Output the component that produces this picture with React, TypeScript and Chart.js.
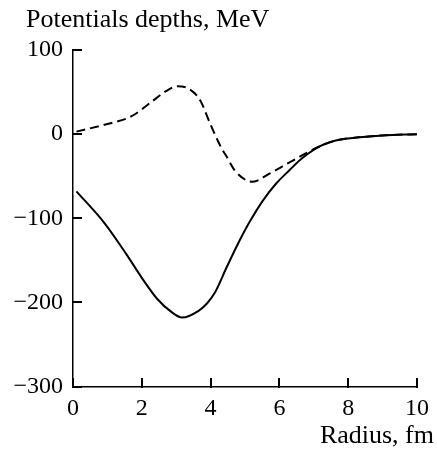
import React, { useEffect, useRef } from "react";
import { Chart, registerables } from "chart.js";

Chart.register(...registerables);

const solidX = [0.1, 0.92, 1.54, 2.02, 2.45, 2.85, 3.17, 3.65, 3.9, 4.13, 4.47, 4.8, 5.14, 5.52, 5.9, 6.29, 6.65, 7.2, 7.7, 8.25, 9.0, 10];
const solidY = [-68, -106, -142, -172, -196, -211, -218, -210, -201, -188, -158, -130, -104, -79, -59, -43, -29, -14, -7, -4, -1.5, 0];

const dashedX = [0.1, 1.0, 1.69, 2.27, 2.7, 3.03, 3.36, 3.7, 3.98, 4.32, 4.47, 4.7, 5.04, 5.23, 5.71, 6.19, 6.67, 7.2, 7.7, 8.25, 9.0, 10];
const dashedY = [3, 12, 21, 38, 51, 57, 54, 40, 13, -17, -27, -43, -55, -56.5, -47, -36, -25, -14, -7, -4, -1.5, 0];

const xTicks = [0, 2, 4, 6, 8, 10];
const yTicks = [-300, -200, -100, 0, 100];

const yTitle = "Potentials depths, MeV";
const xTitle = "Radius, fm";

const FONT = "'Liberation Serif', 'Times New Roman', serif";

const fmt = (v: number) => (v < 0 ? "\u2212" + Math.abs(v) : String(v));

const decorPlugin = {
  id: "decor",
  afterDraw(chart: any) {
    const ctx = chart.ctx;
    const xs = chart.scales.x;
    const ys = chart.scales.y;
    ctx.save();
    ctx.setLineDash([]);
    ctx.globalAlpha = 1;
    ctx.fillStyle = "#000000";
    const left = Math.round(ys.right);
    const bottom = Math.round(xs.top);
    for (const t of yTicks) {
      const py = Math.round(ys.getPixelForValue(t));
      ctx.fillRect(left - 1, py - 1, 10, 2);
    }
    for (const t of xTicks) {
      const px = Math.round(xs.getPixelForValue(t));
      ctx.fillRect(px - 1, bottom - 9, 2, 10);
    }
    ctx.font = `26px ${FONT}`;
    ctx.textBaseline = "alphabetic";
    ctx.textAlign = "left";
    ctx.fillText(yTitle, 26, 27);
    ctx.textAlign = "right";
    ctx.fillText(xTitle, 434, 443);
    ctx.restore();
  },
};

export default function App() {
  const ref = useRef<HTMLCanvasElement | null>(null);
  useEffect(() => {
    if (!ref.current) return;
    const chart = new Chart(ref.current, {
      type: "line",
      data: {
        datasets: [
          {
            data: solidX.map((x, i) => ({ x, y: solidY[i] })),
            borderColor: "#000",
            borderWidth: 2,
            pointRadius: 0,
            cubicInterpolationMode: "monotone",
            fill: false,
          },
          {
            data: dashedX.map((x, i) => ({ x, y: dashedY[i] })),
            borderColor: "#000",
            borderWidth: 2,
            borderDash: [9, 5],
            pointRadius: 0,
            cubicInterpolationMode: "monotone",
            fill: false,
          },
        ],
      },
      options: {
        responsive: false,
        animation: false,
        layout: { padding: { top: 50, right: 16, left: 0, bottom: 0 } },
        plugins: { legend: { display: false }, tooltip: { enabled: false } },
        scales: {
          x: {
            type: "linear",
            min: 0,
            max: 10,
            afterBuildTicks: (s: any) => {
              s.ticks = xTicks.map((v) => ({ value: v }));
            },
            afterFit: (s: any) => {
              s.height = 64.5;
            },
            grid: { display: false, drawTicks: false },
            border: { display: true, color: "#000", width: 1.5 },
            ticks: {
              color: "#000",
              font: { family: FONT, size: 24 },
              padding: 8,
              maxRotation: 0,
              autoSkip: false,
              callback: (v: any) => fmt(Number(v)),
            },
          },
          y: {
            type: "linear",
            min: -300,
            max: 100,
            afterBuildTicks: (s: any) => {
              s.ticks = yTicks.map((v) => ({ value: v }));
            },
            afterFit: (s: any) => {
              s.width = 73;
            },
            grid: { display: false, drawTicks: false },
            border: { display: true, color: "#000", width: 1.5 },
            ticks: {
              color: "#000",
              font: { family: FONT, size: 24 },
              padding: 10,
              autoSkip: false,
              callback: (v: any) => fmt(Number(v)),
            },
          },
        },
      },
      plugins: [decorPlugin],
    });
    return () => chart.destroy();
  }, []);
  return (
    <div style={{ position: "fixed", left: 0, top: 0, width: 437, height: 451, background: "#fff" }}>
      <canvas ref={ref} width={437} height={451} style={{ display: "block" }} />
    </div>
  );
}
